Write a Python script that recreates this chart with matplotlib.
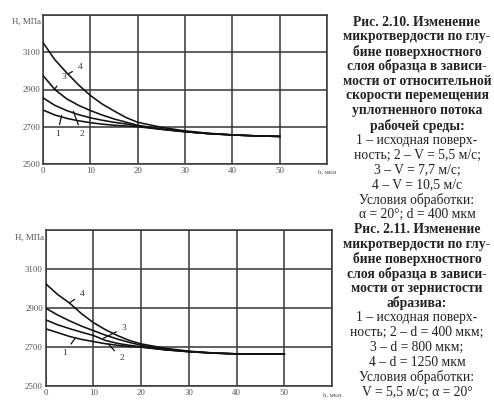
import matplotlib
matplotlib.use("Agg")
import matplotlib.pyplot as plt

# ---------------- data ----------------
h = [0, 2.5, 5, 7.5, 10, 12.5, 15, 17.5, 20, 25, 30, 35, 40, 45, 50]

# Fig. 2.10 (top)
top_c1 = [2790, 2763, 2745, 2732, 2722, 2714, 2708, 2704, 2700, 2686, 2673, 2663, 2656, 2651, 2648]
top_c2 = [2855, 2815, 2787, 2765, 2748, 2735, 2724, 2715, 2704, 2687, 2673, 2663, 2656, 2651, 2648]
top_c3 = [2975, 2900, 2850, 2815, 2787, 2763, 2742, 2725, 2708, 2688, 2674, 2663, 2656, 2651, 2648]
top_c4 = [3152, 3060, 2990, 2925, 2868, 2822, 2785, 2750, 2724, 2697, 2678, 2665, 2657, 2651, 2648]

# Fig. 2.11 (bottom)
bot_c1 = [2794, 2775, 2755, 2740, 2729, 2718, 2710, 2704, 2700, 2687, 2677, 2670, 2666, 2665, 2665]
bot_c2 = [2840, 2815, 2795, 2777, 2760, 2735, 2720, 2710, 2702, 2687, 2677, 2670, 2666, 2665, 2665]
bot_c3 = [2900, 2865, 2835, 2808, 2785, 2762, 2742, 2725, 2710, 2689, 2678, 2670, 2666, 2665, 2665]
bot_c4 = [3025, 2970, 2926, 2872, 2826, 2790, 2760, 2735, 2717, 2695, 2680, 2671, 2666, 2665, 2665]

curve_names = ["1", "2", "3", "4"]
x_ticks = [0, 10, 20, 30, 40, 50, 60]
x_ticklabels = ["0", "10", "20", "30", "40", "50", ""]
y_ticks = [2500, 2700, 2900, 3100, 3300]
y_ticklabels = ["2500", "2700", "2900", "3100", ""]
x_title = "h, мкм"
y_title = "H, МПа"

top_caption_bold = ["Рис. 2.10. Изменение", "микротвердости по глу-", "бине поверхностного",
                    "слоя образца в зависи-", "мости от относительной", "скорости перемещения",
                    "уплотненного потока", "рабочей среды:"]
top_caption_reg = ["1 – исходная поверх-", "ность; 2 – V = 5,5 м/с;", "3 – V = 7,7 м/с;",
                   "4 – V = 10,5 м/с", "Условия обработки:", "α = 20°; d = 400 мкм"]
bot_caption_bold = ["Рис. 2.11. Изменение", "микротвердости по глу-", "бине поверхностного",
                    "слоя образца в зависи-", "мости от зернистости", "абразива:"]
bot_caption_reg = ["1 – исходная поверх-", "ность; 2 – d = 400 мкм;", "3 – d = 800 мкм;",
                   "4 – d = 1250 мкм", "Условия обработки:", "V = 5,5 м/с; α = 20°"]

# ---------------- figure ----------------
W, H = 494, 403
fig = plt.figure(figsize=(W / 100, H / 100), dpi=100)
fig.patch.set_facecolor("white")

SERIF = ["Liberation Serif", "DejaVu Serif"]
GRID_C = "#3c3c3c"
LINE_C = "#111111"
TICK_C = "#555555"


def make_axes(rect, curves, labels):
    l, t, r, b = rect
    ax = fig.add_axes([l / W, 1 - b / H, (r - l) / W, (b - t) / H])
    ax.set_xlim(0, 60)
    ax.set_ylim(2500, 3300)
    ax.set_xticks(x_ticks)
    ax.set_xticklabels(x_ticklabels)
    ax.set_yticks(y_ticks)
    ax.set_yticklabels(y_ticklabels)
    ax.grid(True, color=GRID_C, lw=1.15)
    for s in ax.spines.values():
        s.set_color(GRID_C)
        s.set_linewidth(1.15)
    ax.tick_params(length=0, pad=2, labelsize=6.4, labelcolor=TICK_C)
    for lab in ax.get_xticklabels() + ax.get_yticklabels():
        lab.set_family(SERIF)
    ax.set_axisbelow(True)
    for c in curves:
        ax.plot(h, c, color=LINE_C, lw=1.15, zorder=3)
    for name, (pt, txt) in zip(curve_names, labels):
        ax.annotate(name, xy=pt, xytext=txt, family=SERIF, fontsize=6.8, color="#333333",
                    ha="center", va="center", zorder=4,
                    arrowprops=dict(arrowstyle="-", color=LINE_C, lw=0.9,
                                    shrinkA=2, shrinkB=0))
    ax.text(60, 2500 - 30, x_title, transform=ax.transData, ha="center", va="top",
            family=SERIF, fontsize=4.8, color=TICK_C)
    ax.text(-0.4, 3262, y_title, ha="right", va="center", family=SERIF,
            fontsize=6.4, color=TICK_C)
    return ax


top_labels = [((3.95, 2761), (3.0, 2660)), ((6.4, 2783), (8.2, 2660)),
              ((2.5, 2904), (4.4, 2965)), ((5.35, 2984), (7.8, 3020))]
bot_labels = [((6.15, 2746), (4.0, 2670)), ((13.1, 2717), (15.9, 2643)),
              ((12.1, 2746), (16.4, 2798)), ((4.95, 2926), (7.6, 2972))]

make_axes((43, 15, 327, 164), [top_c1, top_c2, top_c3, top_c4], top_labels)
make_axes((45.7, 230, 332, 386.3), [bot_c1, bot_c2, bot_c3, bot_c4], bot_labels)

# ---------------- captions ----------------
lines = ([(s, "bold") for s in top_caption_bold] + [(s, "normal") for s in top_caption_reg] +
         [(s, "bold") for s in bot_caption_bold] + [(s, "normal") for s in bot_caption_reg])
y0, dy = 22, 14.8
for i, (s, w) in enumerate(lines):
    fig.text(417 / W, 1 - (y0 + i * dy) / H, s, ha="center", va="center",
             family=SERIF, weight=w, fontsize=9.8, color="#222222")

fig.savefig("out.png", dpi=100, facecolor="white")
